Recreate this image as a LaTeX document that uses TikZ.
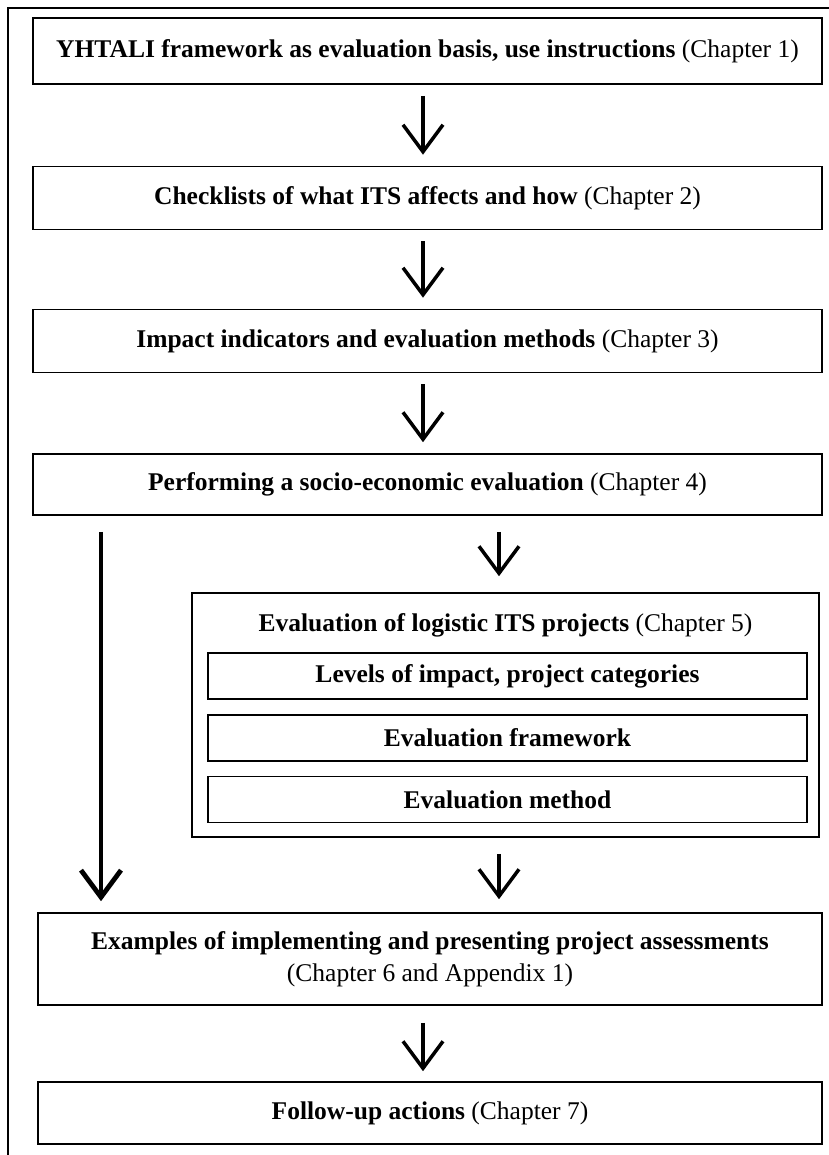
\documentclass[tikz,border=0pt]{standalone}
\usepackage{fontspec}
\setmainfont{Liberation Serif}
\usetikzlibrary{arrows.meta}

\begin{document}
\begin{tikzpicture}[
        x=1pt, y=-1pt,
        font=\fontsize{25.5}{32}\selectfont,
        stage/.style={
            draw,
            line width=1.6pt,
            align=center,
            inner sep=0pt,
            minimum width=789pt,
            minimum height=63pt
        },
        part/.style={
            draw,
            line width=1.6pt,
            inner sep=0pt,
            minimum width=599pt,
            minimum height=46pt
        },
        flow/.style={
            line width=3.5pt,
            -{Straight Barb[length=27pt, width=40pt]},
            shorten <=11pt,
            shorten >=11pt
        }
    ]
    \useasboundingbox (0,0) rectangle (828,1155);
    % outer frame, cut off at right and bottom
    \draw[line width=1.6pt] (8,1160) -- (8,8) -- (835,8);

    \node[stage, minimum height=66pt] (yhtali) at (427.5,51) {\textbf{YHTALI framework as evaluation basis, use instructions} (Chapter 1)};
    \node[stage] (check) at (427.5,198) {\textbf{Checklists of what ITS affects and how} (Chapter 2)};
    \node[stage] (indic) at (427.5,341) {\textbf{Impact indicators and evaluation methods} (Chapter 3)};
    \node[stage, minimum height=61pt] (socio) at (427.5,484.5) {\textbf{Performing a socio-economic evaluation} (Chapter 4)};

    % chapter 5 group
    \node[draw, line width=1.6pt, minimum width=627pt, minimum height=244pt] (logis) at (505.5,715) {};
    \node (logtitle) at (505.5,625) {\textbf{Evaluation of logistic ITS projects} (Chapter 5)};
    \node[part] (levels) at (507.5,676) {\textbf{Levels of impact, project categories}};
    \node[part] (frame) at (507.5,738) {\textbf{Evaluation framework}};
    \node[part] (method) at (507.5,799.5) {\textbf{Evaluation method}};

    \node[stage, minimum width=784pt, minimum height=92pt] (examp) at (430,959) {\textbf{Examples of implementing and presenting project assessments}\\(Chapter 6 and Appendix 1)};
    \node[stage, minimum width=784pt, minimum height=62pt] (follow) at (430,1113) {\textbf{Follow-up actions} (Chapter 7)};

    \coordinate (left) at (101,0);
    \coordinate (mid) at (499,0);
    \coordinate (main) at (423,0);

    \draw[flow] (yhtali.south -| main) -- (check.north -| main);
    \draw[flow] (check.south -| main) -- (indic.north -| main);
    \draw[flow] (indic.south -| main) -- (socio.north -| main);
    \draw[flow, shorten <=16pt, shorten >=16pt] (socio.south -| mid) -- (logis.north -| mid);
    \draw[flow, line width=4.8pt, shorten <=16pt] (socio.south -| left) -- (examp.north -| left);
    \draw[flow, shorten <=16pt, shorten >=13pt] (logis.south -| mid) -- (examp.north -| mid);
    \draw[flow, shorten <=17pt, shorten >=10pt] (examp.south -| main) -- (follow.north -| main);
\end{tikzpicture}
\end{document}
